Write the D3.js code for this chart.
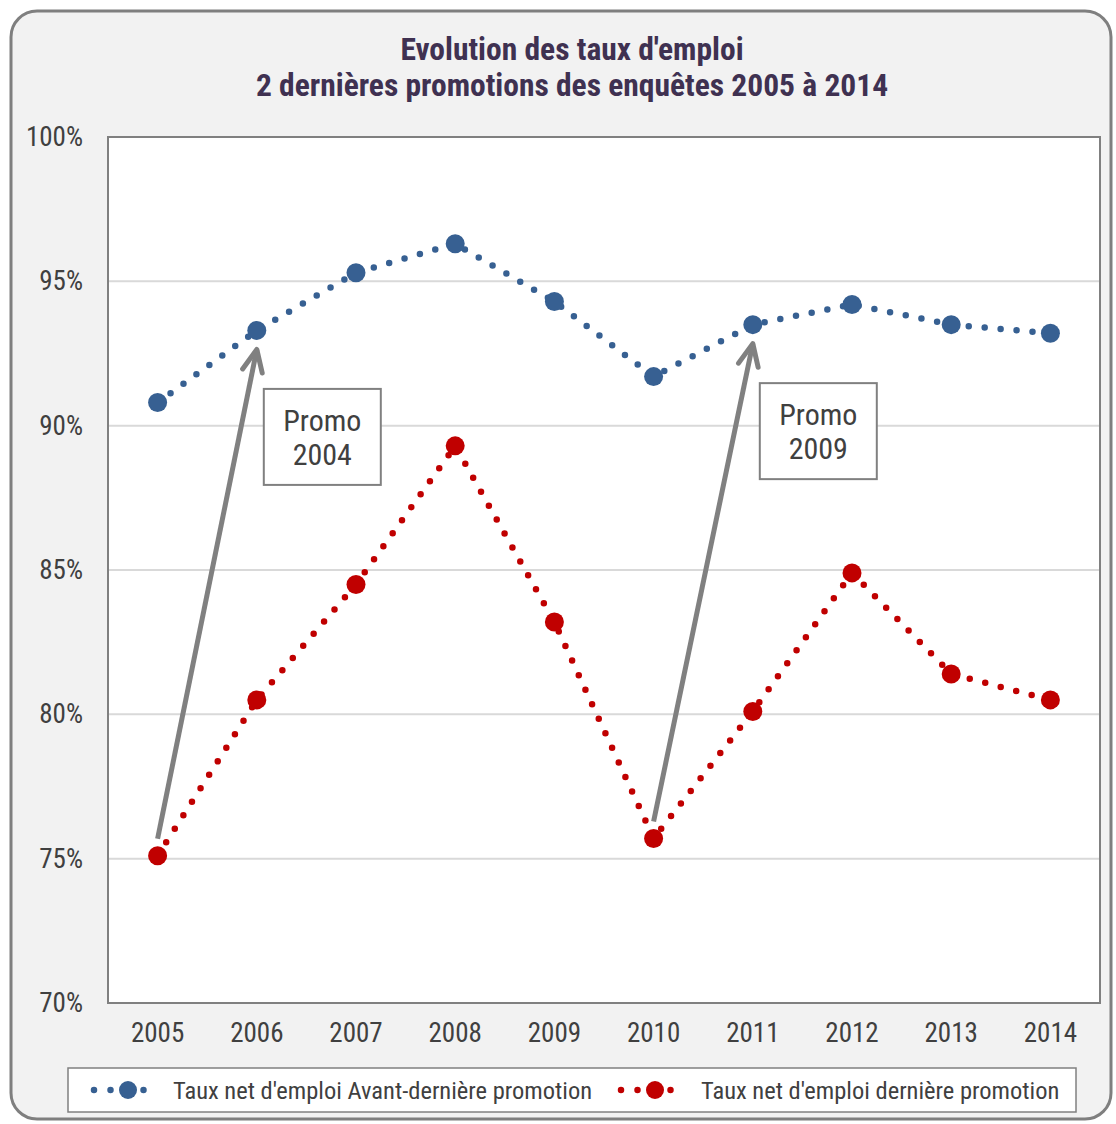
<!DOCTYPE html>
<html>
<head>
<meta charset="utf-8">
<script src="https://cdn.jsdelivr.net/npm/d3@7"></script>
<style>
  body { margin: 0; background: #fff; }
  svg { display: block; }
  text { font-family: "Liberation Sans Narrow", "Arial Narrow", "Roboto Condensed", sans-serif; }
</style>
</head>
<body>
<div id="chart"></div>
<script>
const years = [2005, 2006, 2007, 2008, 2009, 2010, 2011, 2012, 2013, 2014];
const avantDerniere = [90.8, 93.3, 95.3, 96.3, 94.3, 91.7, 93.5, 94.2, 93.5, 93.2];
const derniere = [75.1, 80.5, 84.5, 89.3, 83.2, 75.7, 80.1, 84.9, 81.4, 80.5];
const yTicks = [70, 75, 80, 85, 90, 95, 100];
const titleLines = ["Evolution des taux d'emploi", "2 dernières promotions des enquêtes 2005 à 2014"];
const seriesNames = ["Taux net d'emploi Avant-dernière promotion", "Taux net d'emploi dernière promotion"];
const promoLabels = [["Promo", "2004"], ["Promo", "2009"]];
const promoFrom = [2005, 2010];
const promoTo = [2006, 2011];

const W = 1116, H = 1124;
const margin = { top: 137, right: 16, bottom: 121, left: 108 },
      width = W - margin.left - margin.right,
      height = H - margin.top - margin.bottom;

const blue = "#376092", red = "#C00000", grey = "#808080", txt = "#404040";

const svg = d3.select("#chart").append("svg")
    .attr("width", W)
    .attr("height", H);

// outer frame
svg.append("rect")
    .attr("x", 11).attr("y", 11)
    .attr("width", 1100).attr("height", 1108)
    .attr("rx", 26)
    .attr("fill", "#f2f2f2")
    .attr("stroke", "#7f7f7f")
    .attr("stroke-width", 3);

// title
svg.append("text")
    .attr("x", 572).attr("y", 60)
    .attr("text-anchor", "middle")
    .attr("fill", "#3F3151")
    .style("font-size", "31.5px").style("font-weight", "bold")
  .selectAll("tspan")
  .data(titleLines)
  .enter().append("tspan")
    .attr("x", 572)
    .attr("dy", (d, i) => i ? 36 : 0)
    .text(d => d);

const g = svg.append("g")
    .attr("transform", "translate(" + margin.left + "," + margin.top + ")");

const x = d3.scaleBand().domain(years).range([0, width]);
const cx = d => x(d) + x.bandwidth() / 2;
const y = d3.scaleLinear().domain([70, 100]).range([height, 0]);

g.append("rect")
    .attr("width", width).attr("height", height)
    .attr("fill", "#fff");

// gridlines
g.selectAll(".grid")
  .data(yTicks.slice(1, -1))
  .enter().append("line")
    .attr("class", "grid")
    .attr("x1", 0).attr("x2", width)
    .attr("y1", d => y(d)).attr("y2", d => y(d))
    .attr("stroke", "#d9d9d9")
    .attr("stroke-width", 2);

g.append("rect")
    .attr("width", width).attr("height", height)
    .attr("fill", "none")
    .attr("stroke", grey)
    .attr("stroke-width", 2);

// axes
const yAxis = g.append("g")
    .call(d3.axisLeft(y).tickValues(yTicks).tickSize(0).tickPadding(25).tickFormat(d => d + "%"));
yAxis.select(".domain").remove();
yAxis.selectAll("text")
    .attr("fill", txt)
    .style("font-size", "27px")
    .style("font-family", null);

const xAxis = g.append("g")
    .attr("transform", "translate(0," + height + ")")
    .call(d3.axisBottom(x).tickSize(0).tickPadding(20));
xAxis.select(".domain").remove();
xAxis.selectAll("text")
    .attr("fill", txt)
    .style("font-size", "27px")
    .style("font-family", null);

// series
const series = [
  { name: seriesNames[0], values: avantDerniere, color: blue },
  { name: seriesNames[1], values: derniere, color: red }
];

const line = d3.line()
    .x((d, i) => cx(years[i]))
    .y(d => y(d));

series.forEach(s => {
  g.append("path")
      .datum(s.values)
      .attr("d", line)
      .attr("fill", "none")
      .attr("stroke", s.color)
      .attr("stroke-width", 6.5)
      .attr("stroke-linecap", "round")
      .attr("stroke-dasharray", "0 16");

  g.selectAll(null)
    .data(s.values)
    .enter().append("circle")
      .attr("cx", (d, i) => cx(years[i]))
      .attr("cy", d => y(d))
      .attr("r", 9.5)
      .attr("fill", s.color);
});

// arrows + promo boxes
svg.append("defs").append("marker")
    .attr("id", "chev")
    .attr("markerUnits", "userSpaceOnUse")
    .attr("viewBox", "-26 -14 30 28")
    .attr("markerWidth", 30).attr("markerHeight", 28)
    .attr("refX", 0).attr("refY", 0)
    .attr("orient", "auto")
  .append("path")
    .attr("d", "M-22,-10L0,0L-22,10")
    .attr("fill", "none")
    .attr("stroke", grey)
    .attr("stroke-width", 5)
    .attr("stroke-linecap", "round")
    .attr("stroke-linejoin", "round");

promoLabels.forEach((lab, k) => {
  const i0 = years.indexOf(promoFrom[k]), i1 = years.indexOf(promoTo[k]);
  g.append("line")
      .attr("x1", cx(promoFrom[k])).attr("y1", y(derniere[i0]) - 17)
      .attr("x2", cx(promoTo[k])).attr("y2", y(avantDerniere[i1]) + 19)
      .attr("stroke", grey)
      .attr("stroke-width", 5)
      .attr("marker-end", "url(#chev)");

  const bx = cx(promoTo[k]) + 7, by = y(avantDerniere[i1]) + 58.5;
  g.append("rect")
      .attr("x", bx).attr("y", by)
      .attr("width", 117).attr("height", 96)
      .attr("fill", "#fff")
      .attr("stroke", grey)
      .attr("stroke-width", 2);
  g.append("text")
      .attr("text-anchor", "middle")
      .attr("fill", txt)
      .style("font-size", "30px")
    .selectAll("tspan")
    .data(lab)
    .enter().append("tspan")
      .attr("x", bx + 58.5)
      .attr("y", (d, j) => by + 42 + j * 34)
      .text(d => d);
});

// legend
const leg = svg.append("g");
leg.append("rect")
    .attr("x", 68).attr("y", 1068)
    .attr("width", 1008).attr("height", 44)
    .attr("fill", "#fff")
    .attr("stroke", grey)
    .attr("stroke-width", 1.5);

const legX = [94, 621];
const legTextX = [173, 701];
series.forEach((s, k) => {
  leg.append("line")
      .attr("x1", legX[k]).attr("x2", legX[k] + 66)
      .attr("y1", 1090).attr("y2", 1090)
      .attr("stroke", s.color)
      .attr("stroke-width", 6.5)
      .attr("stroke-linecap", "round")
      .attr("stroke-dasharray", "0 16.5");
  leg.append("circle")
      .attr("cx", legX[k] + 34).attr("cy", 1090)
      .attr("r", 9)
      .attr("fill", s.color);
  leg.append("text")
      .attr("x", legTextX[k]).attr("y", 1099)
      .attr("fill", txt)
      .style("font-size", "24.5px")
      .text(s.name);
});
</script>
</body>
</html>
